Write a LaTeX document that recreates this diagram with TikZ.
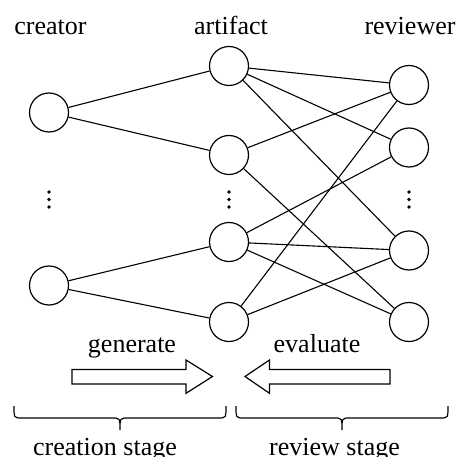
\documentclass[tikz,border=0pt]{standalone}
\usepackage{fontspec}
\setmainfont{Liberation Serif}
\begin{document}
\begin{tikzpicture}[x=1pt,y=-1pt,
  vertex/.style={circle, draw, line width=1.2pt, minimum size=39pt, inner sep=0pt},
  lbl/.style={font=\fontsize{26}{30}\selectfont, anchor=base, inner sep=0pt},
  edge/.style={line width=1.1pt},
  bigarrow/.style={draw, line width=1.2pt, fill=white, line join=miter},
  bracepath/.style={line width=1.2pt},
  dot/.style={fill=black}]
\useasboundingbox (0,0) rectangle (460,457);
% nodes
\node[vertex] (c1) at (49,112.5) {};
\node[vertex] (c2) at (49,285.5) {};
\node[vertex] (a1) at (229,66) {};
\node[vertex] (a2) at (229,155) {};
\node[vertex] (a3) at (229,242) {};
\node[vertex] (a4) at (229,322) {};
\node[vertex] (r1) at (409,85) {};
\node[vertex] (r2) at (409,147.5) {};
\node[vertex] (r3) at (409,250.5) {};
\node[vertex] (r4) at (409,322) {};
% labels
\node[lbl] (lc) at (50.5,35) {creator};
\node[lbl] (la) at (231,35) {artifact};
\node[lbl] (lr) at (410,35) {reviewer};
\node[lbl] (lg) at (132,352) {generate};
\node[lbl] (le) at (317,352) {evaluate};
\node[lbl] (lcs) at (105,455) {creation stage};
\node[lbl] (lrs) at (334.5,455) {review stage};
% edges
\draw[edge] (c1) -- (a1);
\draw[edge] (c1) -- (a2);
\draw[edge] (c2) -- (a3);
\draw[edge] (c2) -- (a4);
\draw[edge] (a1) -- (r1);
\draw[edge] (a1) -- (r2);
\draw[edge] (a1) -- (r3);
\draw[edge] (a2) -- (r1);
\draw[edge] (a2) -- (r4);
\draw[edge] (a3) -- (r2);
\draw[edge] (a3) -- (r3);
\draw[edge] (a3) -- (r4);
\draw[edge] (a4) -- (r1);
\draw[edge] (a4) -- (r3);
% vertical dots
\foreach \x in {49,229,409} {
  \foreach \y in {192,199.5,207} {
    \fill[dot] (\x,\y) circle (1.8pt);
  }
}
% block arrows
\draw[bigarrow] (72,369.5) -- (186,369.5) -- (186,360) -- (212.5,376.5) -- (186,393.3) -- (186,384) -- (72,384) -- cycle;
\draw[bigarrow] (390,369.5) -- (269.5,369.5) -- (269.5,360) -- (245,376.5) -- (269.5,393.3) -- (269.5,384) -- (390,384) -- cycle;
% braces
\draw[bracepath] (14,406) .. controls (14,418) and (14,418) .. (22,418) -- (112,418)
  .. controls (120,418) and (120,418) .. (120,430)
  .. controls (120,418) and (120,418) .. (128,418) -- (218,418)
  .. controls (226,418) and (226,418) .. (226,406);
\draw[bracepath] (236,406) .. controls (236,418) and (236,418) .. (244,418) -- (334,418)
  .. controls (342,418) and (342,418) .. (342,430)
  .. controls (342,418) and (342,418) .. (350,418) -- (440,418)
  .. controls (448,418) and (448,418) .. (448,406);
\end{tikzpicture}
\end{document}
